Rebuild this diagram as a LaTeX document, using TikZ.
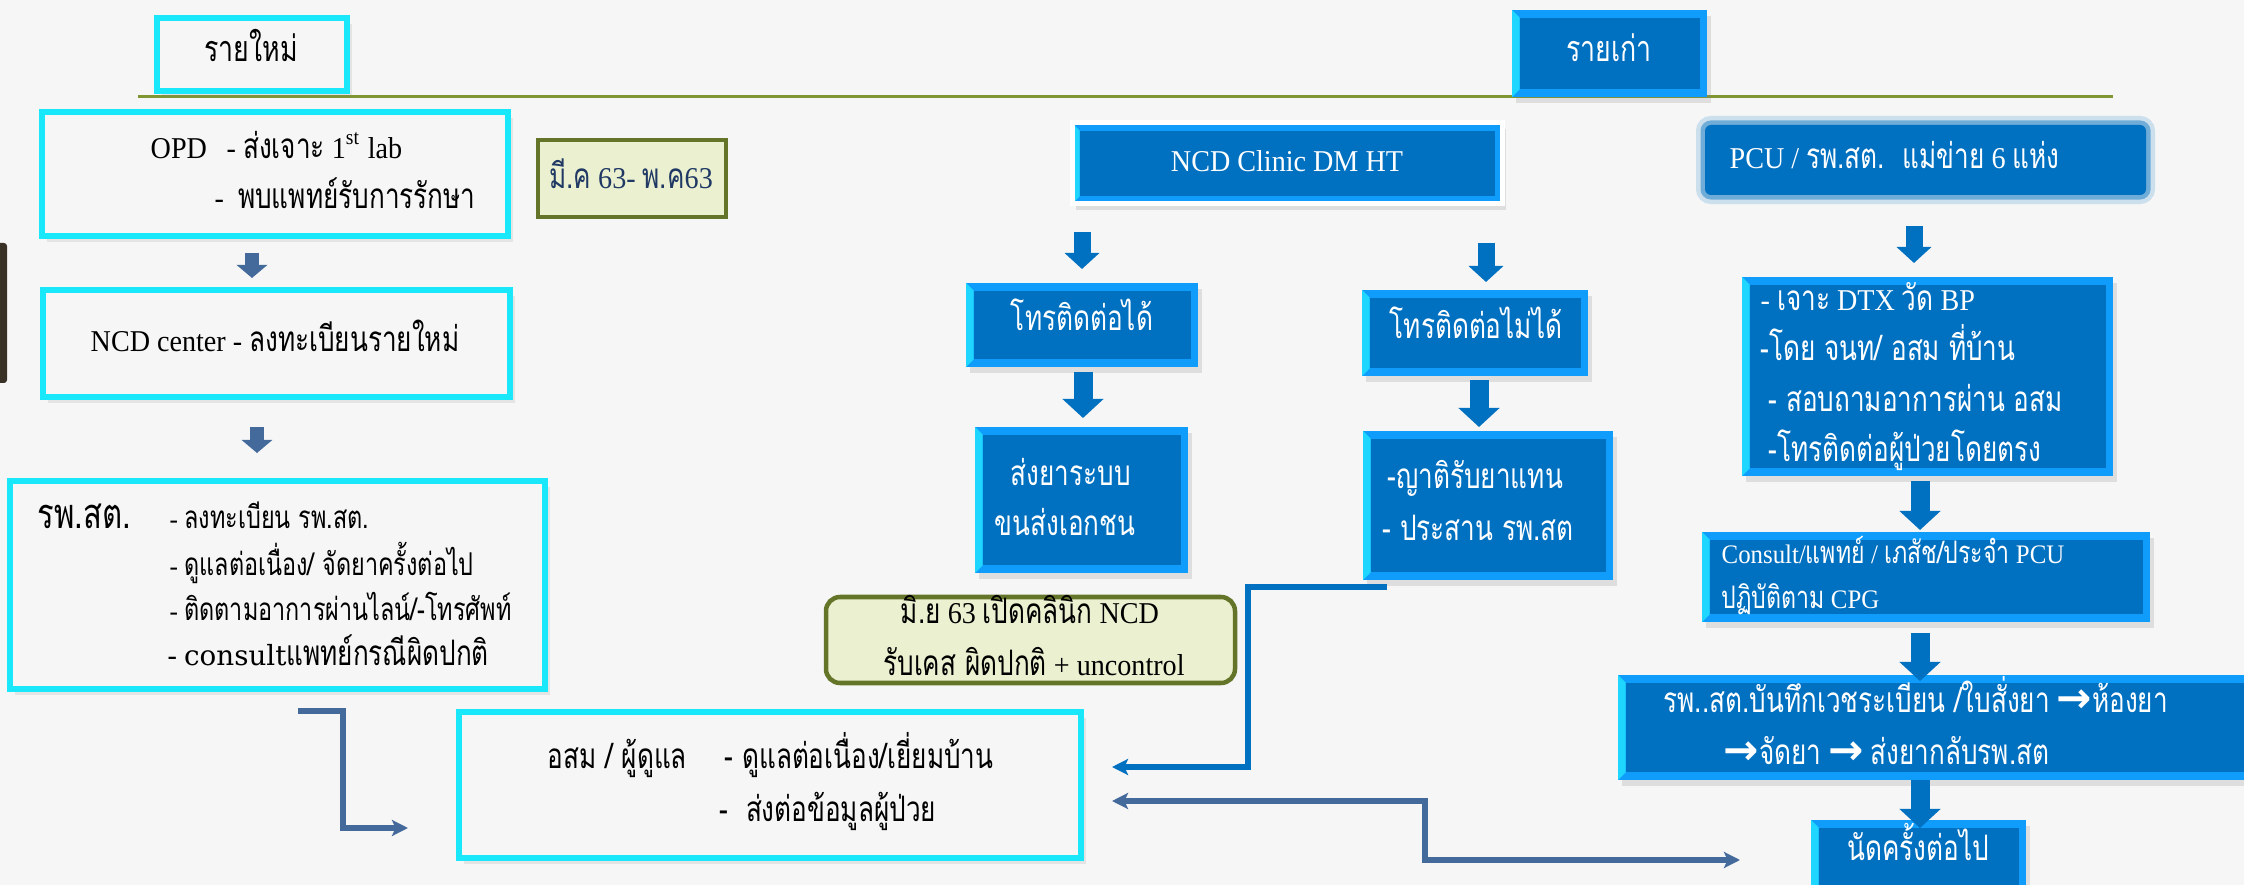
\documentclass[tikz,border=0pt]{standalone}
\usepackage{fontspec}
\setmainfont{Liberation Serif}[FakeStretch=0.93]
\newfontfamily\thf{Loma}[Script=Thai,FakeStretch=0.745,Scale=1.16]
\newfontfamily\wideserif{DejaVu Serif}
\newfontfamily\arrowfont{DejaVu Sans}
\usetikzlibrary{arrows.meta,fit,shadows}
\newcommand\T[1]{{\thf #1}}
\newcommand\fs[1]{\fontsize{#1}{#1}\selectfont}
\newcommand\rarr{{\arrowfont\bfseries\fontsize{12}{12}\selectfont →}}
\newcommand\bevw{0.75mm}
\definecolor{bgc}{RGB}{246,246,246}
\definecolor{cyb}{RGB}{24,232,250}
\definecolor{nblue}{RGB}{0,112,192}
\definecolor{bev}{RGB}{16,156,250}
\definecolor{bevl}{RGB}{30,214,255}
\definecolor{steel}{RGB}{68,106,156}
\definecolor{olivel}{RGB}{128,150,50}
\definecolor{pale}{RGB}{235,241,208}
\definecolor{oliveb}{RGB}{100,116,40}
\definecolor{navyt}{RGB}{31,56,100}
\definecolor{darkbar}{RGB}{58,49,38}
\tikzset{tipS/.tip={Stealth[width=1.6mm,length=1.6mm,inset=0.35mm]}}
\begin{document}
\begin{tikzpicture}[x=0.01cm,y=-0.01cm,
  every node/.style={inner sep=0pt},
  txt/.style={text height=1.6mm, text depth=0mm, font=\fs{8.6}},
  lt/.style={txt, anchor=west},
  wt/.style={text=white},
  cbox/.style={draw=cyb, line width=0.55mm, fill=bgc,
    drop shadow={shadow xshift=0.5mm, shadow yshift=-0.6mm, opacity=0.15}},
  bbox/.style={fill=bev, text=white,
    drop shadow={shadow xshift=0.4mm, shadow yshift=-0.6mm, opacity=0.2},
    path picture={
      \fill[bevl] (path picture bounding box.south west) -- (path picture bounding box.north west)
        -- ([shift={(\bevw,-\bevw)}]path picture bounding box.north west)
        -- ([shift={(\bevw,\bevw)}]path picture bounding box.south west) -- cycle;
      \fill[nblue] ([shift={(\bevw,\bevw)}]path picture bounding box.south west)
        rectangle ([shift={(-\bevw,-\bevw)}]path picture bounding box.north east);
    }},
  gbox/.style={fill=pale, draw=oliveb, line width=0.45mm},
  glow/.style={fill=nblue, rounded corners=0.6mm,
    preaction={draw=nblue!70!white, line width=1.8mm, opacity=0.25},
    preaction={draw=nblue, line width=0.9mm, opacity=0.45}},
  sarrow/.style={draw=steel, line width=1.4mm, -{Triangle[width=3mm,length=1.3mm]}},
  arrA/.style={draw=nblue, line width=1.7mm, -{Triangle[width=3.4mm,length=1.6mm]}},
  arrB/.style={draw=nblue, line width=1.9mm, -{Triangle[width=4mm,length=1.9mm]}},
  conn/.style={line width=0.55mm}
]
\path[use as bounding box, fill=bgc] (0,0) rectangle (2244,885);
\fill[darkbar, rounded corners=0.3mm] (-10,243) rectangle (7,383);

% header line
\coordinate (l1) at (138,97);
\coordinate (l2) at (2113,97);
\draw[olivel, line width=0.3mm] (l1) -- (l2);

% header boxes
\node[cbox, fit={(157,18)(347,91)}] (newb) {};
\node[txt, font=\fs{8.8}] (newt) at (251,53) {\T{รายใหม่}};
\node[bbox, fit={(1512,10)(1707,97)}] (oldb) {};
\node[txt, wt, font=\fs{8.8}] (oldt) at (1609,53) {\T{รายเก่า}};

% left column
\node[cbox, fit={(42,112)(508,236)}] (opd) {};
\node[lt] (opd1) at (150,150) {OPD};
\node[lt] (opd2) at (226,150) {- \T{ส่งเจาะ} 1\textsuperscript{st} lab};
\node[lt] (opd3) at (214,200) {-\ \ \T{พบแพทย์รับการรักษา}};

\node[gbox, fit={(538,140)(726,217)}] (mar) {};
\node[txt, text=navyt] (mart) at (631,180) {\T{มี.ค} 63- \T{พ.ค}63};

\node[cbox, fit={(43,290)(510,397)}] (ncdc) {};
\node[txt] (ncdct) at (275,343) {NCD center - \T{ลงทะเบียนรายใหม่}};

\node[cbox, fit={(10,481)(545,689)}] (rph) {};
\node[lt, font=\fs{10.2}] (rpht) at (37,520) {\T{รพ.สต.}};
\node[lt, font=\fs{7.7}] (rph1) at (169,520) {- \T{ลงทะเบียน รพ.สต.}};
\node[lt, font=\fs{7.7}] (rph2) at (169,567) {- \T{ดูแลต่อเนื่อง/ จัดยาครั้งต่อไป}};
\node[lt, font=\fs{7.7}] (rph3) at (169,612) {- \T{ติดตามอาการผ่านไลน์/-โทรศัพท์}};
\node[lt] (rph4) at (167,657) {- {\wideserif\fs{7.9}consult}\T{แพทย์กรณีผิดปกติ}};

\node[cbox, fit={(459,712)(1081,858)}] (osm) {};
\node[lt] (osm1) at (547,760) {\T{อสม / ผู้ดูแล}};
\node[lt] (osm2) at (724,760) {\T{- ดูแลต่อเนื่อง/เยี่ยมบ้าน}};
\node[lt] (osm3) at (719,813) {\T{-\ \ ส่งต่อข้อมูลผู้ป่วย}};

% middle column
\node[bbox, fit={(1072,123)(1502,204)}, draw=white, line width=0.5mm] (clinic) {};
\node[txt, wt] (clinict) at (1287,163) {NCD Clinic DM HT};
\node[bbox, fit={(966,283)(1198,367)}] (can) {};
\node[txt, wt] (cant) at (1082,322) {\T{โทรติดต่อได้}};
\node[bbox, fit={(1362,290)(1588,376)}] (cannot) {};
\node[txt, wt] (cannott) at (1476,330) {\T{โทรติดต่อไม่ได้}};
\node[bbox, fit={(975,427)(1188,573)}] (send) {};
\node[lt, wt] (send1) at (1010,477) {\T{ส่งยาระบบ}};
\node[lt, wt] (send2) at (994,527) {\T{ขนส่งเอกชน}};
\node[bbox, fit={(1363,431)(1613,580)}] (rel) {};
\node[lt, wt] (rel1) at (1387,480) {\T{-ญาติรับยาแทน}};
\node[lt, wt] (rel2) at (1382,532) {\T{- ประสาน รพ.สต}};
\node[gbox, rounded corners=1.4mm, fit={(826,597)(1235,683)}] (jun) {};
\node[txt] (jun1) at (1030,615) {\T{มิ.ย} 63 \T{เปิดคลินิก} NCD};
\node[txt] (jun2) at (1034,667) {\T{รับเคส ผิดปกติ} + uncontrol};

% right column
\node[glow, fit={(1705,125)(2146,195)}] (pcu) {};
\node[lt, wt] (pcut) at (1729,160) {PCU / \T{รพ.สต.\ \ แม่ข่าย} 6 \T{แห่ง}};
\node[bbox, fit={(1742,277)(2113,476)}] (dtx) {};
\node[lt, wt] (dtx1) at (1760,302) {- \T{เจาะ} DTX \T{วัด} BP};
\node[lt, wt] (dtx2) at (1760,352) {\T{-โดย จนท/ อสม ที่บ้าน}};
\node[lt, wt] (dtx3) at (1768,403) {\T{- สอบถามอาการผ่าน อสม}};
\node[lt, wt] (dtx4) at (1768,453) {\T{-โทรติดต่อผู้ป่วยโดยตรง}};
\node[bbox, fit={(1702,532)(2150,622)}] (cons) {};
\node[lt, wt, font=\fs{7.6}] (cons1) at (1721,555) {Consult/\T{แพทย์} / \T{เภสัช/ประจำ} PCU};
\node[lt, wt, font=\fs{7.6}] (cons2) at (1721,600) {\T{ปฏิบัติตาม} CPG};
\node[bbox, fit={(1618,675)(2262,780)}] (rec) {};
\node[lt, wt] (rec1) at (1663,704) {\T{รพ..สต.บันทึกเวชระเบียน /ใบสั่งยา} \rarr\T{ห้องยา}};
\node[lt, wt] (rec2) at (1723,756) {\rarr\T{จัดยา} \rarr\ \T{ส่งยากลับรพ.สต}};
\node[bbox, fit={(1811,820)(2026,905)}] (nat) {};
\node[txt, wt] (natt) at (1918,852) {\T{นัดครั้งต่อไป}};

% block arrows
\coordinate (a1s) at (252,253); \coordinate (a1e) at (252,278);
\coordinate (a2s) at (257,427); \coordinate (a2e) at (257,453);
\coordinate (a3s) at (1082,232); \coordinate (a3e) at (1082,269);
\coordinate (a4s) at (1486,243); \coordinate (a4e) at (1486,282);
\coordinate (a5s) at (1083,372); \coordinate (a5e) at (1083,418);
\coordinate (a6s) at (1479,380); \coordinate (a6e) at (1479,427);
\coordinate (a7s) at (1914,226); \coordinate (a7e) at (1914,263);
\coordinate (a8s) at (1920,481); \coordinate (a8e) at (1920,530);
\coordinate (a9s) at (1920,633); \coordinate (a9e) at (1920,681);
\coordinate (a10s) at (1920,780); \coordinate (a10e) at (1920,828);
\draw[sarrow] (a1s) -- (a1e);
\draw[sarrow] (a2s) -- (a2e);
\draw[arrA] (a3s) -- (a3e);
\draw[arrA] (a4s) -- (a4e);
\draw[arrB] (a5s) -- (a5e);
\draw[arrB] (a6s) -- (a6e);
\draw[arrA] (a7s) -- (a7e);
\draw[arrB] (a8s) -- (a8e);
\draw[arrB] (a9s) -- (a9e);
\draw[arrB] (a10s) -- (a10e);

% connectors
\coordinate (cL0) at (298,711); \coordinate (cLm) at (343,828); \coordinate (cL1) at (408,828);
\draw[conn, steel, -tipS] (cL0) -| (cLm) -- (cL1);
\coordinate (cB0) at (1387,587); \coordinate (cBm) at (1248,767); \coordinate (cB1) at (1112,767);
\draw[conn, nblue, line width=0.6mm, -tipS] (cB0) -| (cBm) -- (cB1);
\coordinate (cC0) at (1112,801); \coordinate (cCm) at (1425,860); \coordinate (cC1) at (1740,860);
\draw[conn, steel, tipS-tipS] (cC0) -| (cCm) -- (cC1);
\end{tikzpicture}
\end{document}
